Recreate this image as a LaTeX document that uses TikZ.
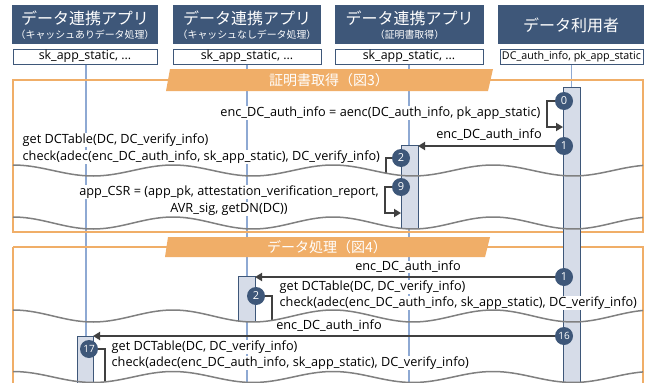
\documentclass[tikz,border=0pt]{standalone}
\usepackage{fontspec}
\setmainfont{Open Sans}
\newfontfamily\jp{Noto Sans CJK JP}
\usetikzlibrary{arrows.meta,calc}

\definecolor{hdr}{HTML}{3E5779}
\definecolor{life}{HTML}{8EA9D3}
\definecolor{actfill}{HTML}{D6DCE8}
\definecolor{band}{HTML}{F0AE68}
\definecolor{msgc}{HTML}{404040}
\definecolor{brk}{HTML}{808080}

\tikzset{
  hdrbox/.style={draw=none, fill=hdr, minimum width=#1, minimum height=39pt, inner sep=0pt},
  hdrtitle/.style={text=white, font=\jp\fontsize{16}{18}\selectfont, inner sep=0pt},
  hdrsub/.style={text=white, font=\jp\fontsize{9.9}{11}\selectfont, inner sep=0pt},
  attrbox/.style={draw=hdr, line width=0.9pt, fill=white, minimum width=#1, minimum height=15pt, inner sep=0pt, font=\fontsize{12.4}{13}\selectfont},
  lifeline/.style={draw=life, line width=1.6pt},
  frame/.style={draw=band, line width=1.5pt},
  bandtext/.style={text=white, font=\jp\fontsize{14}{15}\selectfont, inner sep=0pt},
  actbox/.style={draw=hdr, fill=actfill, line width=1pt},
  stepnum/.style={circle, fill=hdr, text=white, minimum size=18pt, inner sep=0pt, font=\fontsize{11}{11}\selectfont},
  msgline/.style={draw=msgc, line width=1.8pt},
  msgarrow/.style={msgline, -{Triangle[length=7pt,width=8pt]}},
  lbl/.style={fill=white, inner sep=0.5pt, font=\fontsize{12.7}{14}\selectfont},
  breakline/.style={draw=brk, line width=1.5pt}
}

\begin{document}
\begin{tikzpicture}[x=1pt,y=-1pt]
\useasboundingbox (0,0) rectangle (651,383);
\fill[white] (0,0) rectangle (651,383);

% participant headers
\node[hdrbox=146pt] (h1) at (85,24.5) {};
\node[hdrbox=148pt] (h2) at (247,24.5) {};
\node[hdrbox=149pt] (h3) at (409.5,24.5) {};
\node[hdrbox=146pt] (h4) at (571,24.5) {};
\node[hdrtitle] (t1) at (85,18) {データ連携アプリ};
\node[hdrsub] (s1) at (85,35) {（キャッシュありデータ処理）};
\node[hdrtitle] (t2) at (247,18) {データ連携アプリ};
\node[hdrsub] (s2) at (247,35) {（キャッシュなしデータ処理）};
\node[hdrtitle] (t3) at (409.5,18) {データ連携アプリ};
\node[hdrsub] (s3) at (409.5,35) {（証明書取得）};
\node[hdrtitle] (t4) at (571,25) {データ利用者};

% lifelines
\coordinate (e1) at (86,383);
\coordinate (e2) at (247,383);
\coordinate (e3) at (409,383);
\coordinate (e4) at (571.5,383);
\draw[lifeline] (86,64) -- (e1);
\draw[lifeline] (247,64) -- (e2);
\draw[lifeline] (409,64) -- (e3);
\draw[lifeline] (571.5,64) -- (e4);

% attribute boxes
\node[attrbox=144pt] (k1) at (85,56.5) {sk\_app\_static, ...};
\node[attrbox=148pt] (k2) at (247,56.5) {sk\_app\_static, ...};
\node[attrbox=148pt] (k3) at (409,56.5) {sk\_app\_static, ...};
\node[attrbox=143pt, font=\fontsize{10.7}{11}\selectfont] (k4) at (571.5,56.5) {DC\_auth\_info, pk\_app\_static};

% section frames
\draw[frame] (13,80) rectangle (643,232);
\draw[frame] (13,247) -- (643,247) -- (643,390);
\draw[frame] (13,247) -- (13,390);

% activation bars
\draw[actbox] (563,87) rectangle (580,392);
\draw[actbox] (401,145) rectangle (418,228);
\draw[actbox] (238,276) rectangle (255,321);
\draw[actbox] (77,336) rectangle (93,392);

% section bands
\fill[band] (170,69) -- (493,69) -- (488,91) -- (166,91) -- cycle;
\node[bandtext] (b1) at (329,80) {証明書取得（図3）};
\fill[band] (168,237) -- (490,237) -- (485,257) -- (165,257) -- cycle;
\node[bandtext] (b2) at (327,247) {データ処理（図4）};

% step markers
\node[stepnum] (c0) at (564,101) {0};
\node[stepnum] (c1) at (564,146) {1};
\node[stepnum] (c2) at (401,158) {2};
\node[stepnum] (c9) at (401,187) {9};
\node[stepnum] (d1) at (564,277) {1};
\node[stepnum] (d2) at (256,296) {2};
\node[stepnum, font=\fontsize{10}{10}\selectfont] (d16) at (564,336) {16};
\node[stepnum, font=\fontsize{10}{10}\selectfont] (d17) at (89,349) {17};

% messages, certificate section
\coordinate (p0a) at (547,101);
\coordinate (p0b) at (547,127);
\coordinate (p0c) at (563,127);
\draw[msgarrow] (c0.west) -- (p0a) -- (p0b) -- (p0c);
\coordinate (p1) at (418,146);
\draw[msgarrow] (c1.west) -- (p1);
\coordinate (p2a) at (386,158);
\coordinate (p2b) at (386,173);
\draw[msgline] (c2.west) -- (p2a) -- (p2b);
\coordinate (p9a) at (385,187);
\coordinate (p9b) at (385,213);
\coordinate (p9c) at (401,213);
\draw[msgarrow] (c9.west) -- (p9a) -- (p9b) -- (p9c);

% messages, data section
\coordinate (q1) at (255,277);
\draw[msgarrow] (d1.west) -- (q1);
\coordinate (q2a) at (272,296);
\coordinate (q2b) at (272,320.5);
\draw[msgline] (d2.east) -- (q2a) -- (q2b);
\coordinate (q16) at (93,336);
\draw[msgarrow] (d16.west) -- (q16);
\coordinate (q17a) at (105,349);
\coordinate (q17b) at (105,382);
\draw[msgline] (d17.east) -- (q17a) -- (q17b);

% message labels
\node[lbl, anchor=east] (l0) at (541,113) {enc\_DC\_auth\_info = aenc(DC\_auth\_info, pk\_app\_static)};
\node[lbl] (l1) at (489,135) {enc\_DC\_auth\_info};
\node[lbl, anchor=west] (l2a) at (22,140) {get DCTable(DC, DC\_verify\_info)};
\node[lbl, anchor=west] (l2b) at (22,157) {check(adec(enc\_DC\_auth\_info, sk\_app\_static), DC\_verify\_info)};
\node[lbl] (l9a) at (229,192) {app\_CSR = (app\_pk, attestation\_verification\_report,};
\node[lbl] (l9b) at (229,209) {AVR\_sig, getDN(DC))};
\node[lbl] (m1) at (408,267) {enc\_DC\_auth\_info};
\node[lbl, anchor=west] (m2a) at (279,287) {get DCTable(DC, DC\_verify\_info)};
\node[lbl, anchor=west] (m2b) at (279,303) {check(adec(enc\_DC\_auth\_info, sk\_app\_static), DC\_verify\_info)};
\node[lbl] (m16) at (329,326) {enc\_DC\_auth\_info};
\node[lbl, anchor=west] (m17a) at (111,347) {get DCTable(DC, DC\_verify\_info)};
\node[lbl, anchor=west] (m17b) at (111,363) {check(adec(enc\_DC\_auth\_info, sk\_app\_static), DC\_verify\_info)};

% time breaks
\draw[breakline] plot[domain=13:643, samples=150, smooth] (\x,{170.5-5.5*cos(2.25*(\x-13))});
\draw[breakline] plot[domain=13:643, samples=150, smooth] (\x,{223-6*cos(2.25*(\x-13))});
\draw[breakline] plot[domain=13:643, samples=150, smooth] (\x,{316-6*cos(2.25*(\x-13))});
\draw[breakline] plot[domain=13:643, samples=150, smooth] (\x,{377-5.5*cos(2.25*(\x-13))});
\end{tikzpicture}
\end{document}
